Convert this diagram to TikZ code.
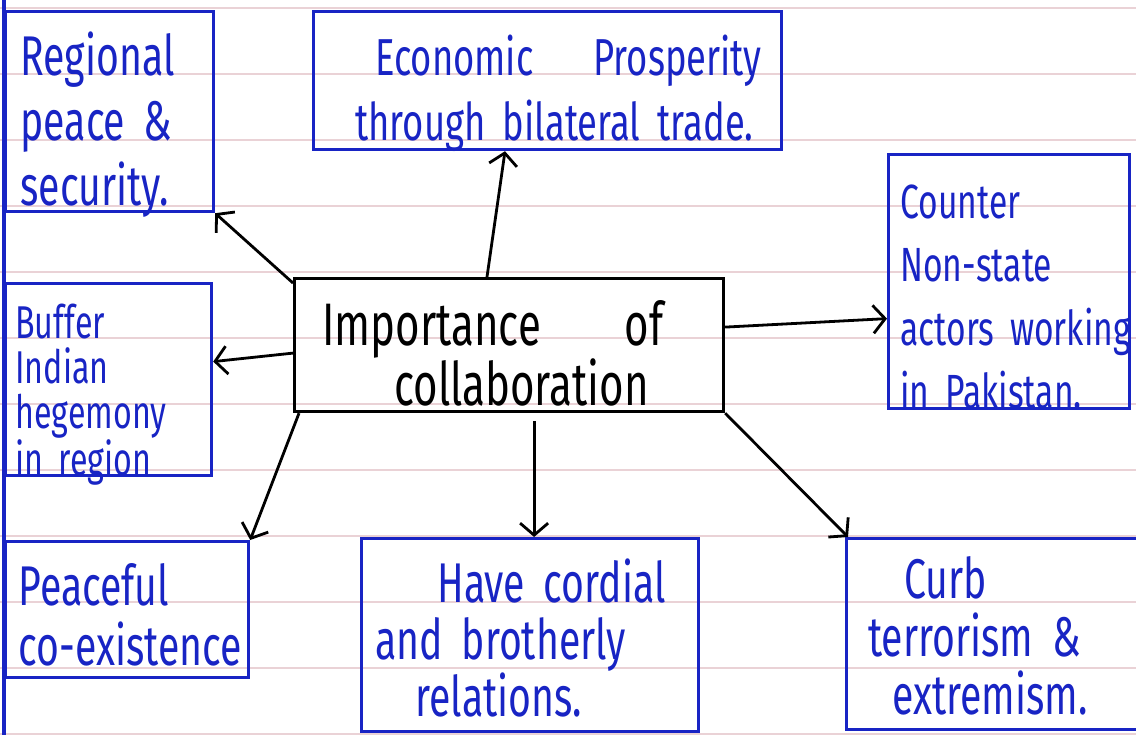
\documentclass[tikz,border=0pt]{standalone}
\usepackage{fontspec}
\newfontfamily\handfont[FakeStretch=0.7]{Fira Sans}
\usetikzlibrary{arrows.meta, calc}
\definecolor{ink}{RGB}{24,36,196}
\definecolor{ruling}{RGB}{234,210,214}
\tikzset{
>={Straight Barb[length=6pt,width=14pt]}, % open hand-drawn arrow heads
every node/.style={inner sep=0pt},
inkbox/.style={draw=ink, line width=1.6pt, anchor=north west}, % blue answer boxes
topicbox/.style={draw=black, line width=1.6pt, anchor=north west},
hand/.style={font=\handfont\fontsize{28}{32.5}\selectfont, text=ink, align=left, text width=300pt, anchor=base west},
arrow/.style={->, line width=1.4pt, black},
ruled/.style={ruling, line width=0.8pt},
}
\begin{document}
\begin{tikzpicture}[x=0.5pt, y=-0.5pt]%pixel grid, y grows downwards
  \useasboundingbox (0,0) rectangle (1136,735);

  % notebook paper
  \foreach \ry in {8,74,...,735}
    \draw[ruled] (0,\ry) -- (1136,\ry);
  \draw[ink, line width=1.6pt] (4,0) -- (4,735);

  \node[inkbox, minimum width=104pt, minimum height=100pt] (regional) at (4,10) {};
  \node[inkbox, minimum width=234pt, minimum height=69pt] (econ) at (312,10) {};
  \node[inkbox, minimum width=120.5pt, minimum height=127pt] (counter) at (887,153) {};
  \node[inkbox, minimum width=103pt, minimum height=96pt] (buffer) at (4,282) {};
  \node[topicbox, minimum width=214.5pt, minimum height=66.5pt] (centre) at (293,277) {};
  \node[inkbox, minimum width=121.5pt, minimum height=68pt] (peaceful) at (4,540) {};
  \node[inkbox, minimum width=168.5pt, minimum height=96.5pt] (cordial) at (360,537) {};
  \node[inkbox, minimum width=147.5pt, minimum height=95.5pt] (curb) at (845,537) {};

  \node[hand] (regionalT) at (20,75) {Regional\\peace \&\\security.};
  \node[hand, font=\handfont\fontsize{26}{32.5}\selectfont] (econT) at (355,75) {\hspace*{10pt}Economic\hspace{30pt}Prosperity\\through bilateral trade.};
  \node[hand, font=\handfont\fontsize{24}{31.75}\selectfont] (counterT) at (900,218) {Counter\\Non-state\\actors working\\in Pakistan.};
  \node[hand, font=\handfont\fontsize{23}{22.5}\selectfont] (bufferT) at (15,338) {Buffer\\Indian\\hegemony\\in region};
  \node[hand, text=black, font=\handfont\fontsize{30}{30}\selectfont] (centreT) at (322,345) {Importance\hspace{42pt}of\\\hspace*{36pt}collaboration};
  \node[hand, font=\handfont\fontsize{28}{30}\selectfont] (peacefulT) at (18,605) {Peaceful\\co-existence};
  \node[hand, font=\handfont\fontsize{28}{28.5}\selectfont] (cordialT) at (375,602) {\hspace*{31pt}Have cordial\\and brotherly\\\hspace*{20pt}relations.};
  \node[hand, font=\handfont\fontsize{28}{29}\selectfont] (curbT) at (868,598) {\hspace*{18pt}Curb\\terrorism \&\\\hspace*{12pt}extremism.};

  \draw[arrow] ($(centre.north west)+(194,0)$) -- ($(econ.south west)+(193,0)$);
  \draw[arrow] ($(centre.north west)+(0,6)$) -- (regional.south east);
  \draw[arrow] ($(centre.west)+(0,8)$) -- ($(buffer.east)+(0,-18)$);
  \draw[arrow] ($(centre.east)+(0,-18)$) -- ($(counter.west)+(0,37)$);
  \draw[arrow] ($(centre.south west)+(6,0)$) -- (peaceful.north east);
  \draw[arrow] ($(cordial.north |- centre.south)+(4,8)$) -- ($(cordial.north)+(4,0)$);
  \draw[arrow] (centre.south east) -- ($(curb.north west)+(3,0)$);
\end{tikzpicture}
\end{document}
